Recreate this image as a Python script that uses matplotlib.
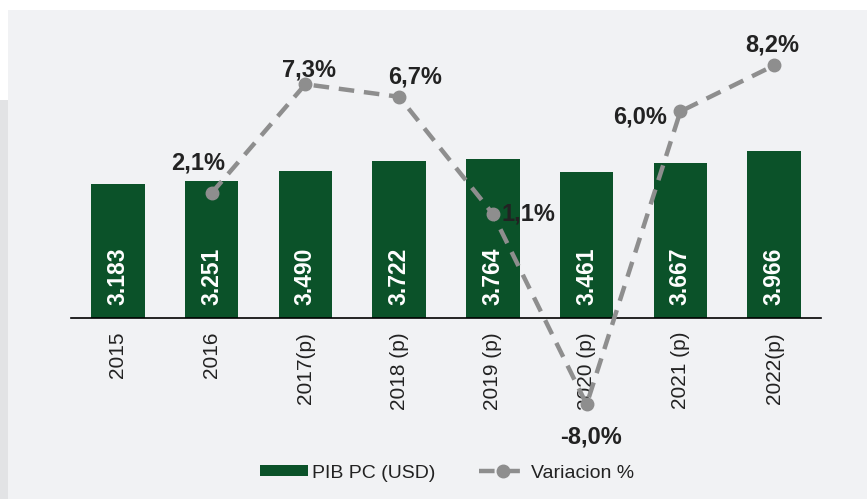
import matplotlib
matplotlib.use("Agg")
import matplotlib.pyplot as plt
from matplotlib.patches import Rectangle, Patch
from matplotlib.lines import Line2D

plt.rcParams['font.family'] = ['Liberation Sans', 'DejaVu Sans']

# data
years = ["2015", "2016", "2017(p)", "2018 (p)", "2019 (p)", "2020 (p)", "2021 (p)", "2022(p)"]
pib_pc = [3183, 3251, 3490, 3722, 3764, 3461, 3667, 3966]
pib_labels = ["3.183", "3.251", "3.490", "3.722", "3.764", "3.461", "3.667", "3.966"]
var_years_idx = [1, 2, 3, 4, 5, 6, 7]
variacion = [2.1, 7.3, 6.7, 1.1, -8.0, 6.0, 8.2]
var_labels = ["2,1%", "7,3%", "6,7%", "1,1%", "-8,0%", "6,0%", "8,2%"]
# label offsets in pixels (dx, dy) relative to each point
var_offsets = [(-13, 30), (4, 14), (16, 20), (36, 0), (4, -33), (-40, -6), (-2, 20)]

green = "#0b5229"
gray = "#8e8e8e"

fig = plt.figure(figsize=(8.67, 4.99), dpi=100)
fig.patch.set_facecolor("white")
# light gray panel behind the chart
fig.patches.append(Rectangle((8 / 867, 0), 1, 1 - 10 / 499, transform=fig.transFigure,
                             facecolor="#f1f2f4", edgecolor="none", zorder=-10))
fig.patches.append(Rectangle((0, 0), 8 / 867, 0.8, transform=fig.transFigure,
                             facecolor="#e2e3e5", edgecolor="none", zorder=-10))

ax = fig.add_axes([71 / 867, 1 - 318 / 499, 750 / 867, 298 / 499])
ax.patch.set_alpha(0)
x = list(range(len(years)))
ax.bar(x, pib_pc, width=0.57, color=green, zorder=2)
for xi, v, lab in zip(x, pib_pc, pib_labels):
    ax.text(xi, 300, lab, rotation=90, ha="center", va="bottom", color="white",
            fontsize=16.5, fontweight="bold", zorder=3)

ax.set_xlim(-0.5, 7.5)
ax.set_ylim(0, 7072)
ax.set_yticks([])
for s in ["top", "right", "left"]:
    ax.spines[s].set_visible(False)
ax.spines["bottom"].set_linewidth(1.2)
ax.set_xticks(x)
ax.set_xticklabels(years, rotation=90, fontsize=15, color="#222222")
ax.tick_params(axis="x", length=0, pad=10)

ax2 = ax.twinx()
ax2.set_ylim(-3.87, 10.37)
ax2.axis("off")
ax2.plot(var_years_idx, variacion, color=gray, lw=3.2, dashes=(3.5, 2.2),
         marker="o", ms=9, clip_on=False, zorder=4)
for xi, v, lab, off in zip(var_years_idx, variacion, var_labels, var_offsets):
    ax2.annotate(lab, (xi, v), xytext=off, textcoords="offset pixels", ha="center",
                 va="center", fontsize=17, fontweight="bold", color="#222222",
                 annotation_clip=False)

handles = [Patch(facecolor=green, edgecolor="none"),
           Line2D([], [], color=gray, lw=3.2, dashes=(3.5, 2.2), marker="o", ms=9)]
fig.legend(handles, ["PIB PC (USD)", "Variacion %"], loc="center",
           bbox_to_anchor=(447 / 867, 1 - 473 / 499), ncol=2, frameon=False,
           fontsize=14, handlelength=2.5, handleheight=0.5, columnspacing=2.2,
           handletextpad=0.2, labelcolor="#222222")

fig.savefig("out.png", dpi=100, facecolor=fig.get_facecolor())
